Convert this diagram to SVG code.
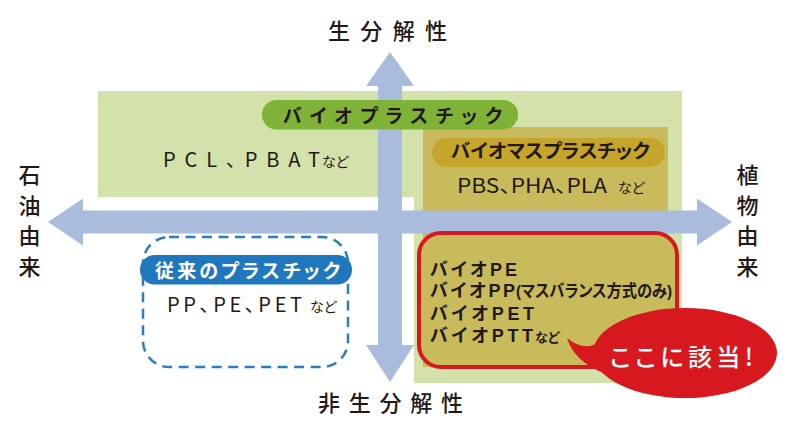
<svg xmlns="http://www.w3.org/2000/svg" width="793" height="423" viewBox="0 0 793 423">
<style>
.jp{font-family:"Noto Sans CJK JP","Noto Sans",sans-serif;font-feature-settings:"palt";}
.axis{font-size:22px;font-weight:500;fill:#231815;}
.pill{font-size:19px;font-weight:700;}
.lbl{font-size:20px;font-weight:400;fill:#231815;}
.sm{font-size:14px;}
.red{font-family:"Liberation Sans","Noto Sans CJK JP",sans-serif;font-feature-settings:"palt";font-size:18px;font-weight:700;fill:#231815;}
</style>
<rect width="793" height="423" fill="#ffffff"/>
<g id="biodegradable-area">
<path d="M98,91 H682 V383 H414 V197 H98 Z" fill="#d3e2ab"/>
</g>
<g id="biomass-area">
<rect x="423" y="127" width="245" height="240" fill="#c9bb5c"/>
</g>
<g id="connectors">
<polygon points="48,222 83,198.5 83,210.5 697,210.5 697,198.5 732,222 697,245.5 697,233.5 83,233.5 83,245.5" fill="#a9bcdb"/>
<polygon points="390,52 414,86 402,86 402,345 414,345 390,382 366,345 378,345 378,86 366,86" fill="#a9bcdb"/>
</g>
<g id="axis-labels" class="jp axis">
<text x="328" y="39" textLength="119" lengthAdjust="spacing">生分解性</text>
<text x="318" y="411" textLength="145" lengthAdjust="spacing">非生分解性</text>
<g text-anchor="middle">
<text x="29.5" y="183">石</text>
<text x="29.5" y="213.5">油</text>
<text x="29.5" y="244">由</text>
<text x="29.5" y="274.5">来</text>
<text x="747.5" y="183">植</text>
<text x="747.5" y="213.5">物</text>
<text x="747.5" y="244">由</text>
<text x="747.5" y="274.5">来</text>
</g>
</g>
<g id="bioplastic">
<rect x="262" y="100" width="256" height="29.5" rx="14.75" fill="#7eb338"/>
<text class="jp pill" x="283" y="123" textLength="219" lengthAdjust="spacing" fill="#231815" font-size="20">バイオプラスチック</text>
<text class="jp lbl" x="163" y="167" font-size="22"><tspan textLength="157" lengthAdjust="spacing">PCL、PBAT</tspan><tspan class="sm" x="322" font-size="15">など</tspan></text>
</g>
<g id="biomass">
<rect x="432" y="138" width="233" height="29" rx="14.5" fill="#c6a62a"/>
<text class="jp pill" x="451" y="158" textLength="199" lengthAdjust="spacingAndGlyphs" fill="#231815" font-size="18">バイオマスプラスチック</text>
<text class="jp lbl" x="457" y="193" font-size="21"><tspan textLength="150" lengthAdjust="spacingAndGlyphs">PBS、PHA、PLA</tspan><tspan class="sm" x="618" font-size="15">など</tspan></text>
</g>
<g id="conventional">
<rect x="143" y="237" width="205" height="130" rx="26" fill="none" stroke="#2a7dc1" stroke-width="2.5" stroke-dasharray="10 6.5"/>
<rect x="140" y="255" width="212" height="29.5" rx="14.75" fill="#1f78be"/>
<text class="jp pill" x="155" y="278" textLength="185" lengthAdjust="spacing" fill="#ffffff">従来のプラスチック</text>
<text class="jp lbl" x="167" y="312" font-size="21"><tspan textLength="135" lengthAdjust="spacing">PP、PE、PET</tspan><tspan class="sm" x="310" font-size="15">など</tspan></text>
</g>
<g id="bio-commodity">
<rect x="419" y="233" width="258" height="134" rx="22" fill="#c9bb5c" stroke="#d7191f" stroke-width="4"/>
<g class="red">
<text x="430" y="276" textLength="87" lengthAdjust="spacing">バイオPE</text>
<text x="430" y="297"><tspan textLength="85" lengthAdjust="spacing">バイオPP</tspan><tspan x="516" textLength="156" lengthAdjust="spacingAndGlyphs" font-size="17">(マスバランス方式のみ)</tspan></text>
<text x="430" y="320" textLength="104" lengthAdjust="spacing">バイオPET</text>
<text x="430" y="342"><tspan textLength="103" lengthAdjust="spacing">バイオPTT</tspan><tspan x="535" font-size="13">など</tspan></text>
</g>
</g>
<g id="callout">
<path d="M600,342 Q584,352 567,338 Q574,362 606,374 Z" fill="#d7191f"/>
<ellipse cx="685" cy="353" rx="92" ry="45" fill="#d7191f"/>
<text class="jp" x="610" y="366" font-size="24" font-weight="500" fill="#ffffff" textLength="143" lengthAdjust="spacing">ここに該当!</text>
</g>
</svg>
